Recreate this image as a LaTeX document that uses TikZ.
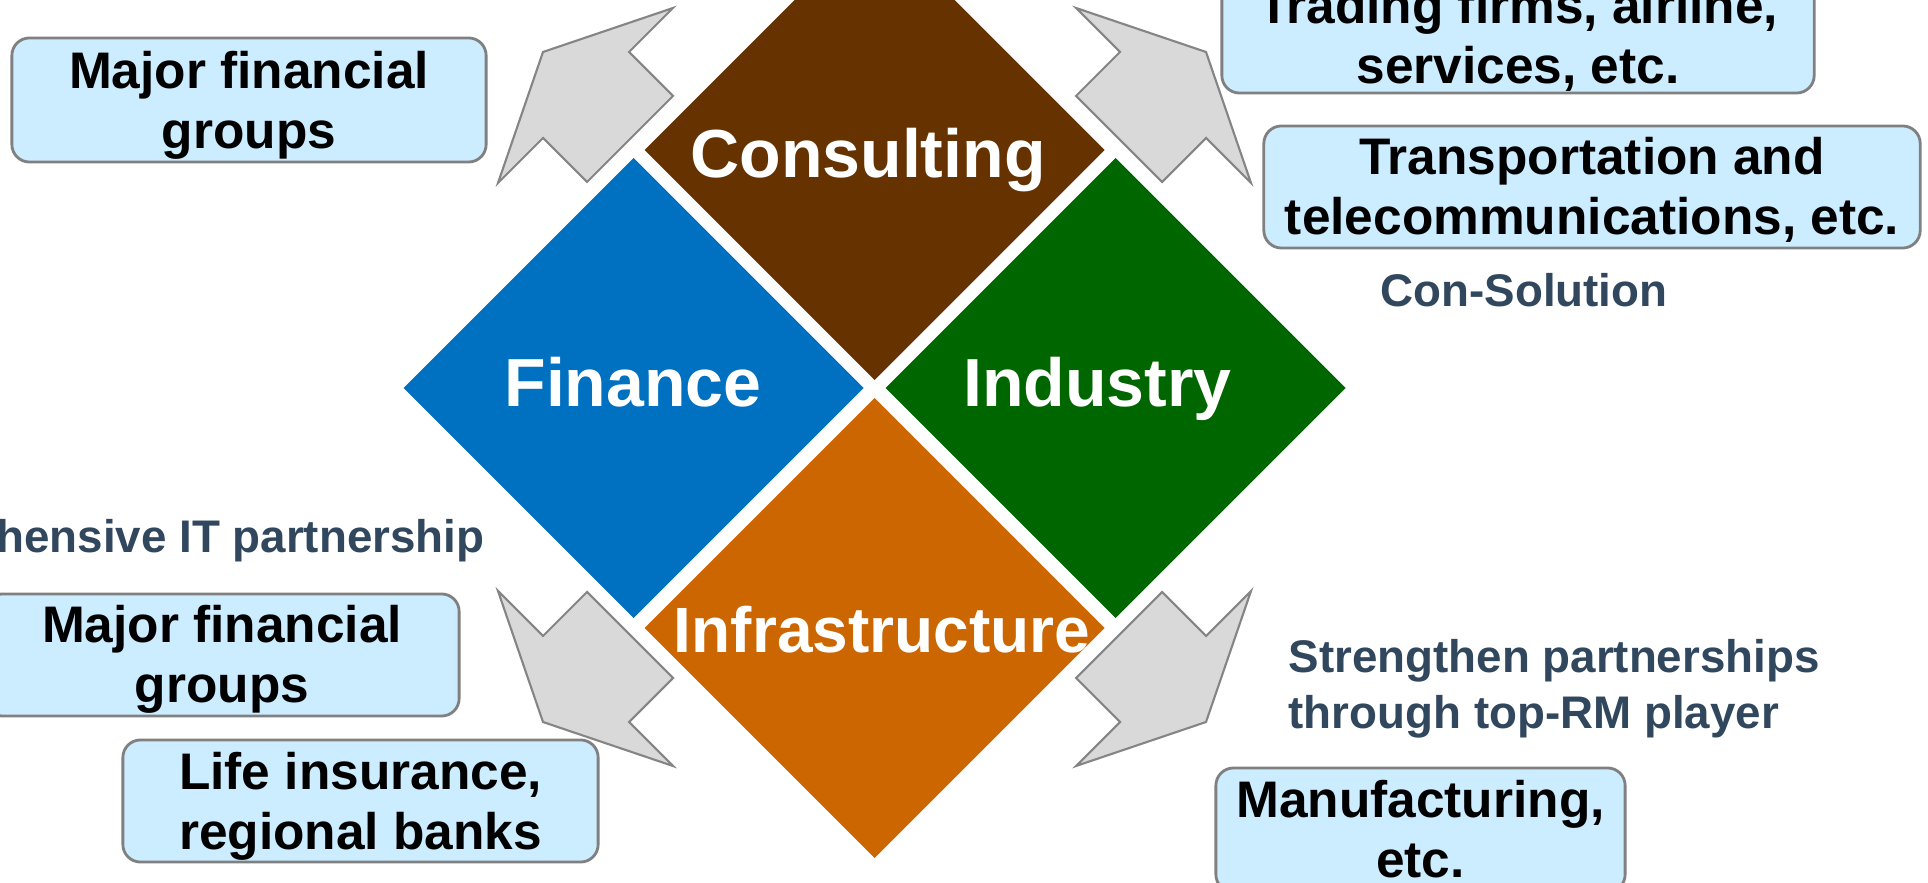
\documentclass[tikz,border=0pt]{standalone}
\usepackage{fontspec}
\setmainfont{Liberation Sans}
\definecolor{boxfill}{HTML}{CCECFF}
\definecolor{boxline}{HTML}{808080}
\definecolor{arrowfill}{HTML}{D9D9D9}
\definecolor{arrowline}{HTML}{858585}
\definecolor{notecol}{HTML}{30475E}
\definecolor{cbrown}{HTML}{663300}
\definecolor{cblue}{HTML}{0070C0}
\definecolor{cgreen}{HTML}{006600}
\definecolor{corange}{HTML}{CC6600}
\begin{document}
\begin{tikzpicture}[x=0.01cm,y=-0.01cm,
  dlabel/.style={text=white, font=\bfseries\fontsize{19.35}{23}\selectfont, inner sep=0pt, anchor=base},
  arrowshape/.style={fill=arrowfill, draw=arrowline, line width=0.6pt, line join=miter},
  box/.style={draw=boxline, fill=boxfill, line width=0.8pt, rounded corners=5pt, inner sep=0pt},
  boxtext/.style={font=\bfseries\fontsize{14.62}{16.79}\selectfont, align=center, inner sep=0pt, text=black},
  note/.style={font=\bfseries\fontsize{13}{15.65}\selectfont, text=notecol, inner sep=0pt},
]
\useasboundingbox (0,0) rectangle (1928,883);
\clip (0,0) rectangle (1928,883);
\fill[white] (0,0) rectangle (1928,883);

% gray block arrows
\foreach \sx/\sy in {1/1,-1/1,1/-1,-1/-1}{
  \begin{scope}[shift={(874.5,387)}, xscale=\sx, yscale=\sy]
    \draw[arrowshape] (-201.5,-379) -- (-245.5,-335) -- (-201.5,-291) -- (-287.5,-205)
      -- (-331.5,-249) -- (-376.5,-204) -- (-331.5,-335) -- cycle;
  \end{scope}
}

% diamonds
\fill[cbrown]  (644.5,150) -- (874.5,-80) -- (1104.5,150) -- (874.5,380) -- cycle;
\fill[cblue]   (403.5,388) -- (633.5,158) -- (863.5,388) -- (633.5,618) -- cycle;
\fill[cgreen]  (885.5,388) -- (1115.5,158) -- (1345.5,388) -- (1115.5,618) -- cycle;
\fill[corange] (644.5,628) -- (874.5,398) -- (1104.5,628) -- (874.5,858) -- cycle;

\node[dlabel] (lcons) at (868,178) {Consulting};
\node[dlabel] (lfin) at (633,407) {Finance};
\node[dlabel] (lind) at (1097.5,407) {Industry};
\node[dlabel, font=\bfseries\fontsize{18.2}{22}\selectfont] (linf) at (882,653) {Infrastructure};

% boxes
\node[box, minimum width=4.74cm, minimum height=1.24cm] (b1) at (249,100) {};
\node[boxtext] (t1) at (249,106.7) {Major financial\strut\\groups\strut};

\node[box, minimum width=5.92cm, minimum height=1.24cm] (b2) at (1518,31) {};
\node[boxtext] (t2) at (1518,41.7) {Trading firms, airline,\strut\\services, etc.\strut};

\node[box, minimum width=6.56cm, minimum height=1.22cm] (b3) at (1592,187) {};
\node[boxtext] (t3) at (1592,192.7) {Transportation and\strut\\telecommunications, etc.\strut};

\node[box, minimum width=4.74cm, minimum height=1.22cm] (b4) at (222,655) {};
\node[boxtext] (t4) at (222,660.7) {Major financial\strut\\groups\strut};

\node[box, minimum width=4.75cm, minimum height=1.22cm] (b5) at (360.5,801) {};
\node[boxtext] (t5) at (360.5,807.7) {Life insurance,\strut\\regional banks\strut};

\node[box, minimum width=4.09cm, minimum height=1.24cm] (b6) at (1420.5,830) {};
\node[boxtext] (t6) at (1420.5,835.7) {Manufacturing,\strut\\etc.\strut};

% notes
\node[note, anchor=base] (con) at (1524,307) {Con-Solution};
\node[note, anchor=base east] (cit) at (485,553) {hensive IT partnership};
\node[note, anchor=west, align=left] (str) at (1288,689.5) {Strengthen partnerships\strut\\through top-RM player\strut};
\end{tikzpicture}
\end{document}
